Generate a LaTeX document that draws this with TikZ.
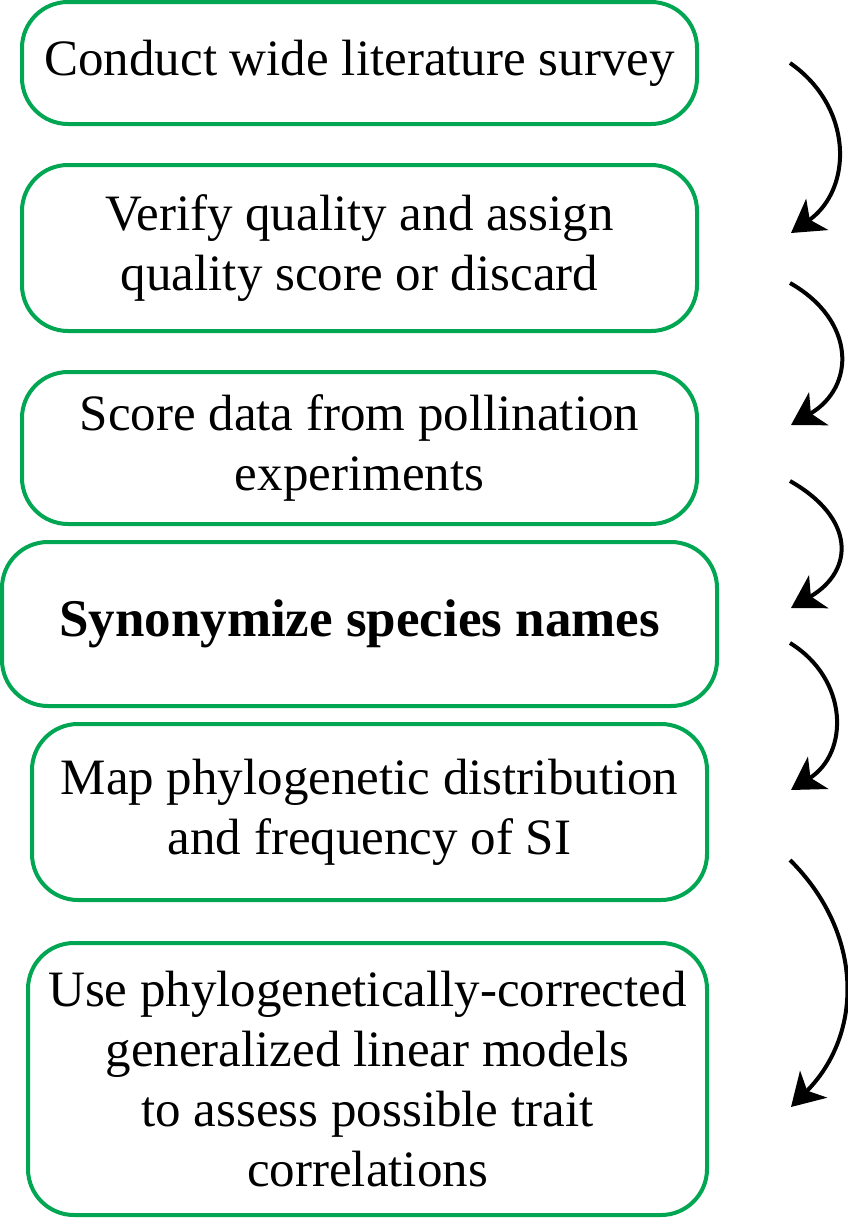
\documentclass[tikz,border=0pt]{standalone}
\usepackage{fontspec}
\setmainfont{Liberation Serif}
\definecolor{boxgreen}{RGB}{0,166,81}
\usetikzlibrary{arrows.meta}
\usetikzlibrary{positioning}
\tikzset{
  flowbox/.style={draw=boxgreen, line width=4pt, rounded corners=46pt, align=center,
    inner sep=0pt, font=\fontsize{51}{60}\selectfont},
  flowarrow/.style={line width=4pt, -{Stealth[length=32pt, width=38pt, inset=9pt]}}
}

\begin{document}
\begin{tikzpicture}[x=1pt, y=-1pt]

  \useasboundingbox (0,0) rectangle (848,1218);

  \node [flowbox, minimum width=675pt, minimum height=122pt] (survey) at (359.5,63) {Conduct wide literature survey};
  \node [flowbox, minimum width=675pt, minimum height=166pt] (verify) at (359.5,248) {Verify quality and assign\\quality score or discard};
  \node [flowbox, minimum width=675pt, minimum height=152pt] (score) at (359.5,448) {Score data from pollination\\experiments};
  \node [flowbox, minimum width=715pt, minimum height=164pt, font=\fontsize{53}{60}\selectfont\bfseries] (synonym) at (359.5,624) {Synonymize species names};
  \node [flowbox, minimum width=675pt, minimum height=176pt] (phylo) at (369.5,812) {Map phylogenetic distribution\\and frequency of SI};
  \node [flowbox, minimum width=679pt, minimum height=272pt] (glm) at (367.5,1079) {Use phylogenetically-corrected\\generalized linear models\\to assess possible trait\\correlations};

  % free arrows on the right
  \coordinate (a1s) at (790,63);
  \coordinate (a1e) at (791,233);
  \coordinate (a2s) at (790,283);
  \coordinate (a2e) at (791,425);
  \coordinate (a3s) at (790,481);
  \coordinate (a3e) at (791,608);
  \coordinate (a4s) at (790,643);
  \coordinate (a4e) at (791,790);
  \coordinate (a5s) at (790,860);
  \coordinate (a5e) at (791,1107);

  \draw [flowarrow] (a1s) to [bend left=55, looseness=1.15] (a1e);
  \draw [flowarrow] (a2s) to [bend left=60, looseness=1.36] (a2e);
  \draw [flowarrow] (a3s) to [bend left=60, looseness=1.5] (a3e);
  \draw [flowarrow] (a4s) to [bend left=58, looseness=1.2] (a4e);
  \draw [flowarrow] (a5s) to [bend left=45, looseness=1.07] (a5e);

\end{tikzpicture}
\end{document}
